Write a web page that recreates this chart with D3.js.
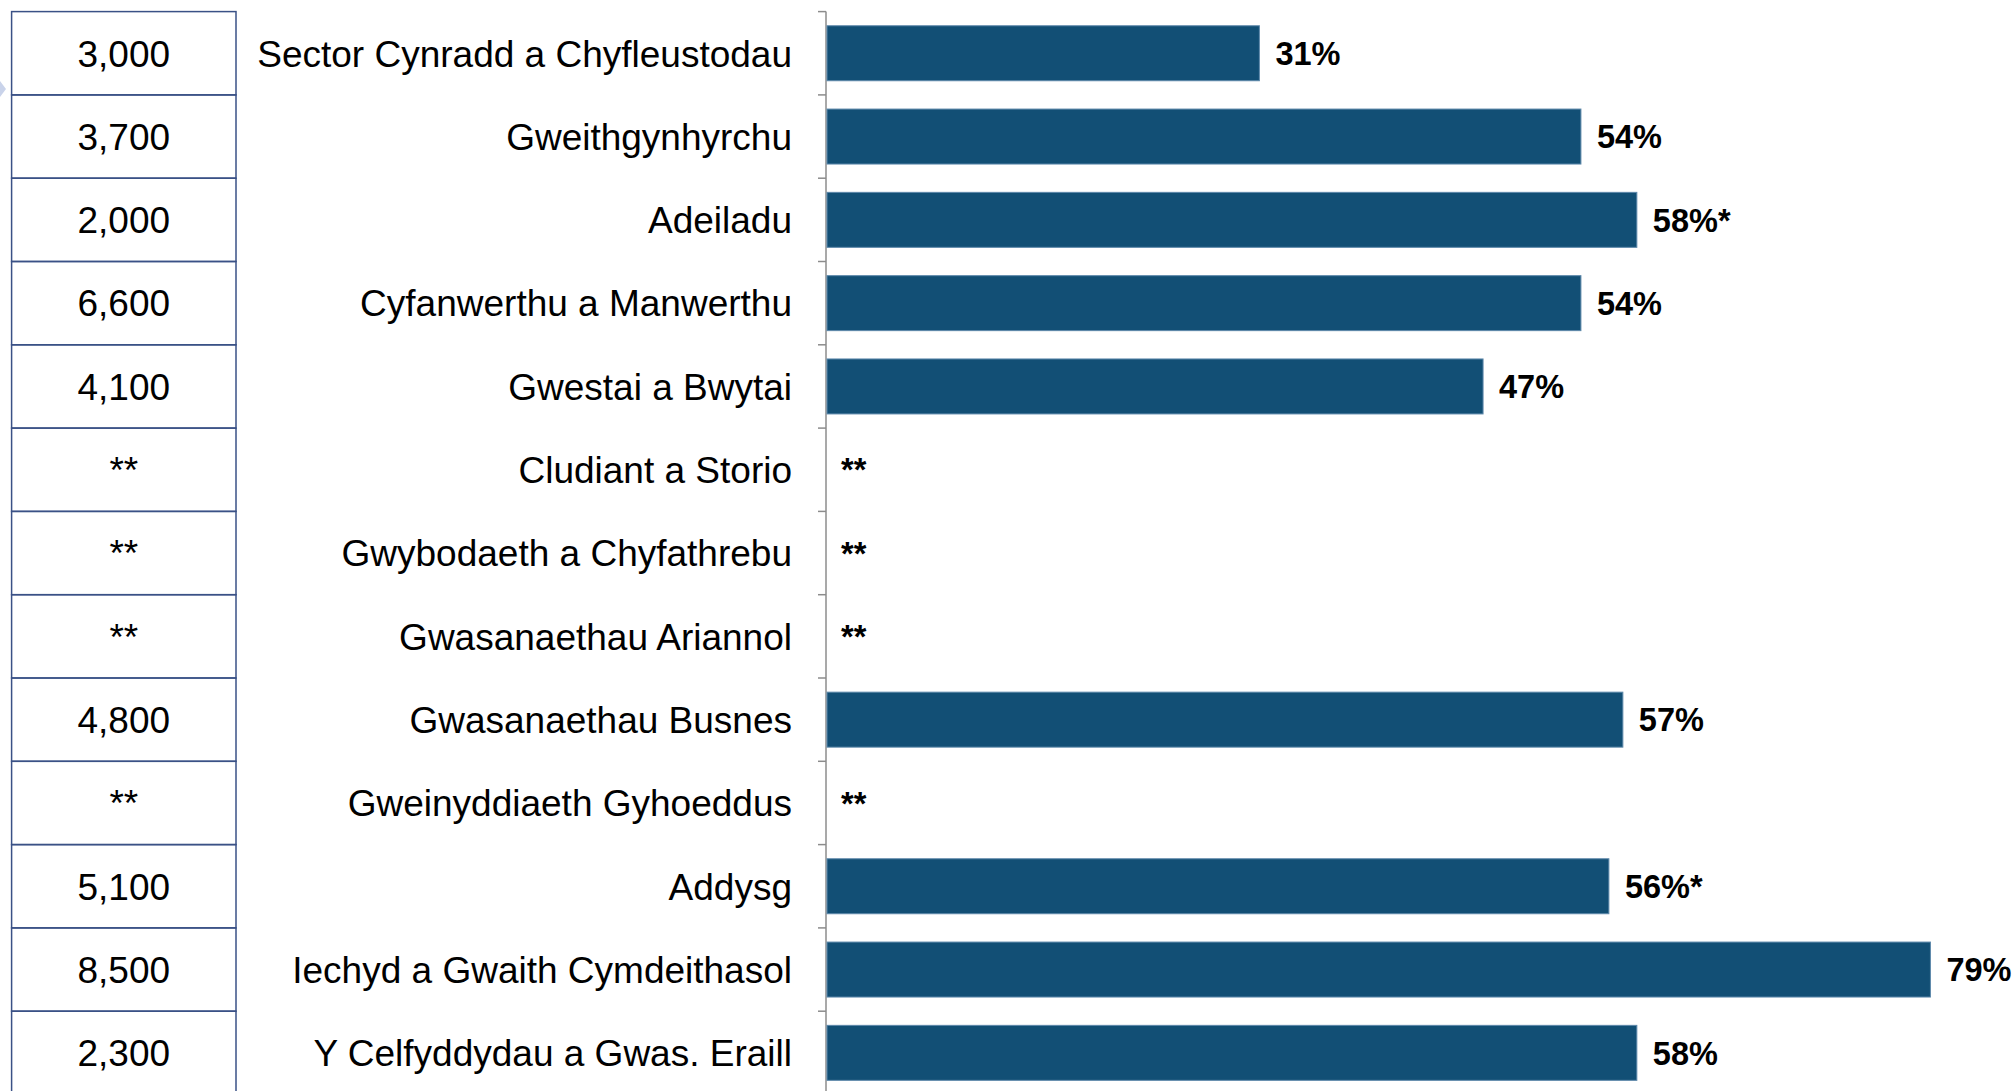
<!DOCTYPE html>
<html>
<head>
<meta charset="utf-8">
<script src="https://cdn.jsdelivr.net/npm/d3@7"></script>
<style>
	body { margin: 0; background: #fff; }
	svg { display: block; }
	.num, .cat { font-family: "Liberation Sans", Arial, sans-serif; font-size: 37px; fill: #000; }
	.val { font-family: "Liberation Sans Narrow", "Liberation Sans", Arial, sans-serif; font-weight: bold; font-size: 32.5px; fill: #000; }
</style>
</head>
<body>
<div id="chart"></div>
<script>
// data
var categories = [
	"Sector Cynradd a Chyfleustodau",
	"Gweithgynhyrchu",
	"Adeiladu",
	"Cyfanwerthu a Manwerthu",
	"Gwestai a Bwytai",
	"Cludiant a Storio",
	"Gwybodaeth a Chyfathrebu",
	"Gwasanaethau Ariannol",
	"Gwasanaethau Busnes",
	"Gweinyddiaeth Gyhoeddus",
	"Addysg",
	"Iechyd a Gwaith Cymdeithasol",
	"Y Celfyddydau a Gwas. Eraill"
];
var counts = ["3,000", "3,700", "2,000", "6,600", "4,100", "**", "**", "**", "4,800", "**", "5,100", "8,500", "2,300"];
var percents = [31, 54, 58, 54, 47, null, null, null, 57, null, 56, 79, 58];
var flags = ["", "", "*", "", "", "", "", "", "", "", "*", "", ""];

var W = 2014,
	H = 1091,
	topY = 11.6,
	rowH = 83.3,
	tableL = 11.6,
	tableR = 236,
	labelX = 792,
	axisX = 826,
	barColor = "#124f75";

var svg = d3.select("#chart").append("svg")
	.attr("width", W)
	.attr("height", H);

var y = d3.scaleBand()
	.domain(d3.range(categories.length))
	.range([topY, topY + rowH * categories.length])
	.paddingInner(0.34)
	.paddingOuter(0.17);

var x = d3.scaleLinear()
	.domain([0, 100])
	.range([axisX, axisX + 1398]);

var rowTop = function(i) { return topY + i * rowH; };
var rowMid = function(i) { return topY + (i + 0.5) * rowH; };

// little marker at the left edge
svg.append("path")
	.attr("d", "M0," + (rowTop(1) - 14) + "L6," + (rowTop(1) - 6) + "L0," + (rowTop(1) + 2) + "Z")
	.style("fill", "#c9d3ea");

// table of counts
var table = svg.append("g").attr("class", "table");
table.selectAll(".cell")
	.data(counts)
	.enter().append("rect")
	.attr("class", "cell")
	.attr("x", tableL)
	.attr("y", function(d, i) { return rowTop(i); })
	.attr("width", tableR - tableL)
	.attr("height", rowH)
	.style("fill", "none")
	.style("stroke", "#3a5186")
	.style("stroke-width", 1.5);

table.selectAll(".num")
	.data(counts)
	.enter().append("text")
	.attr("class", "num")
	.attr("x", (tableL + tableR) / 2)
	.attr("y", function(d, i) { return rowMid(i); })
	.attr("dy", "0.36em")
	.attr("text-anchor", "middle")
	.text(function(d) { return d; });

// category labels
svg.selectAll(".cat")
	.data(categories)
	.enter().append("text")
	.attr("class", "cat")
	.attr("x", labelX)
	.attr("y", function(d, i) { return rowMid(i); })
	.attr("dy", "0.36em")
	.attr("text-anchor", "end")
	.text(function(d) { return d; });

// axis line with ticks on row boundaries
var axis = svg.append("g").attr("class", "axis");
axis.append("line")
	.attr("x1", axisX).attr("x2", axisX)
	.attr("y1", topY).attr("y2", H)
	.style("stroke", "#8c8c8c")
	.style("stroke-width", 1.5);
axis.selectAll(".tick")
	.data(d3.range(categories.length + 1))
	.enter().append("line")
	.attr("class", "tick")
	.attr("x1", axisX - 8).attr("x2", axisX)
	.attr("y1", function(d) { return rowTop(d); })
	.attr("y2", function(d) { return rowTop(d); })
	.style("stroke", "#8c8c8c")
	.style("stroke-width", 1.5);

// bars
var rows = categories.map(function(c, i) {
	return {cat: c, value: percents[i], flag: flags[i], i: i};
});

svg.selectAll(".bar")
	.data(rows.filter(function(d) { return d.value != null; }))
	.enter().append("rect")
	.attr("class", "bar")
	.attr("x", x(0) + 1)
	.attr("y", function(d) { return y(d.i); })
	.attr("width", function(d) { return x(d.value) - x(0) - 1; })
	.attr("height", y.bandwidth())
	.style("fill", barColor)
	.style("stroke", "#5d88aa")
	.style("stroke-width", 1);

svg.selectAll(".val")
	.data(rows)
	.enter().append("text")
	.attr("class", "val")
	.attr("x", function(d) { return d.value == null ? x(0) + 15 : x(d.value) + 16; })
	.attr("y", function(d) { return rowMid(d.i); })
	.attr("dy", "0.36em")
	.text(function(d) { return d.value == null ? "**" : d.value + "%" + d.flag; });
</script>
</body>
</html>
